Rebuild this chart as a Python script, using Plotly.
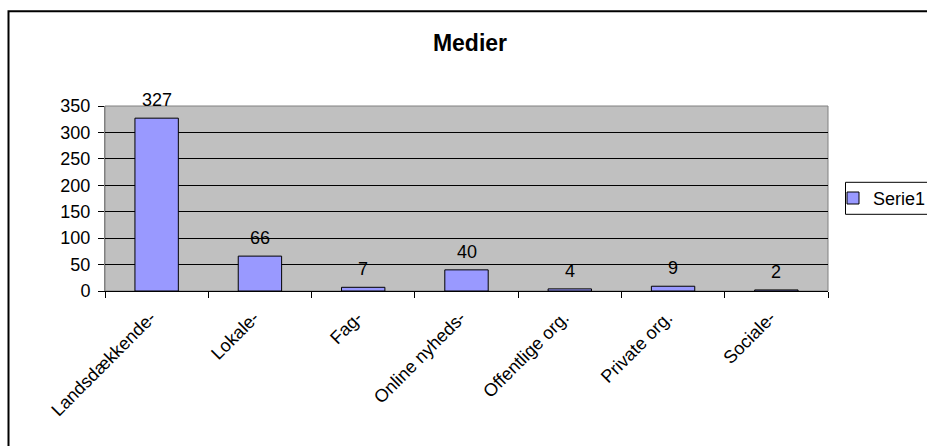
import plotly.graph_objects as go

categories = ["Landsdækkende-", "Lokale-", "Fag-", "Online nyheds-",
              "Offentlige org.", "Private org.", "Sociale-"]
values = [327, 66, 7, 40, 4, 9, 2]
series_name = "Serie1"
title_text = "Medier"

W, H = 927, 446
L, R, T, B = 105, 828, 105.7, 290.7
pw, ph = R - L, B - T

FONT = "Liberation Sans, Arial, sans-serif"


def px_x(p):
    return (p - L) / pw


def px_y(p):
    return (B - p) / ph


fig = go.Figure()
fig.add_trace(go.Bar(
    x=categories, y=values, name=series_name,
    marker=dict(color="#9999FF", line=dict(color="black", width=1)),
    showlegend=True,
))

annotations = [
    dict(x=c, y=v, text=str(v), showarrow=False, xref="x", yref="y",
         yanchor="bottom", yshift=6, font=dict(size=18, color="black", family=FONT))
    for c, v in zip(categories, values)
]

shapes = [
    dict(type="rect", xref="paper", yref="paper",
         x0=px_x(8.5), x1=px_x(945), y0=px_y(470), y1=px_y(11),
         line=dict(color="black", width=2), fillcolor="rgba(0,0,0,0)", layer="below"),
    dict(type="rect", xref="paper", yref="paper", x0=0, x1=1, y0=0, y1=1,
         line=dict(color="#808080", width=1), fillcolor="rgba(0,0,0,0)", layer="below"),
    # legend frame
    dict(type="rect", xref="paper", yref="paper",
         x0=px_x(845.5), x1=px_x(960), y0=px_y(214), y1=px_y(182),
         line=dict(color="black", width=1), fillcolor="white", layer="below"),
]

fig.update_layout(
    width=W, height=H,
    margin=dict(l=L, r=W - R, t=T, b=H - B, autoexpand=False),
    paper_bgcolor="white",
    plot_bgcolor="#C0C0C0",
    font=dict(family=FONT, size=18, color="black"),
    title=dict(text="<b>" + title_text + "</b>", x=px_x(470), xanchor="center",
               xref="paper", y=1 - 43 / H, yanchor="middle",
               font=dict(size=23, family=FONT, color="black")),
    bargap=0.58,
    showlegend=True,
    legend=dict(x=px_x(833), xanchor="left", y=px_y(198), yanchor="middle",
                bgcolor="rgba(0,0,0,0)", borderwidth=0,
                font=dict(size=18, family=FONT, color="black"),
                itemclick=False),
    annotations=annotations,
    shapes=shapes,
)

fig.update_xaxes(
    type="category", tickangle=-45, tickson="boundaries",
    ticks="outside", ticklen=6, tickcolor="black", tickwidth=1,
    showline=True, linecolor="black", linewidth=1,
    showgrid=False, ticklabelstandoff=8, ticklabelshift=-6,
    tickfont=dict(size=18, family=FONT, color="black"),
)
fig.update_yaxes(
    range=[0, 350], dtick=50, tick0=0,
    ticks="outside", ticklen=6, tickcolor="black", tickwidth=1,
    showline=True, linecolor="#808080", linewidth=1,
    showgrid=True, gridcolor="black", gridwidth=1,
    zeroline=False, ticklabelstandoff=4,
    tickfont=dict(size=18, family=FONT, color="black"),
)

fig.write_html(
    "out.html",
    config={"displayModeBar": False},
    post_script="document.body.style.margin='0px';document.body.style.overflow='hidden';",
)
